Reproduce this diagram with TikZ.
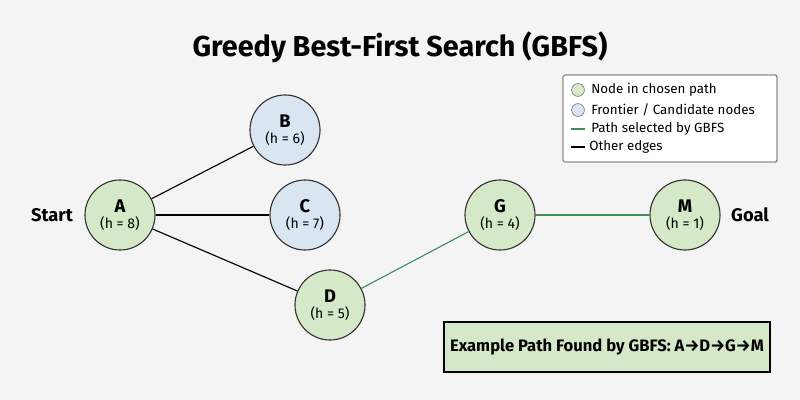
\documentclass[tikz,border=0pt]{standalone}
\usepackage{fontspec}
\setmainfont{Fira Sans}
\definecolor{pathfill}{HTML}{D5E8C8}
\definecolor{candfill}{HTML}{DAE5F2}
\definecolor{pathedge}{HTML}{3C8F5A}
\definecolor{bgcol}{HTML}{F4F4F4}
\tikzset{
    state/.style={circle, draw=black!80, thick, minimum size=1.75cm, align=center, inner sep=0pt, font=\fontsize{10}{11.5}\selectfont},
    chosen/.style={state, fill=pathfill},
    cand/.style={state, fill=candfill},
    other/.style={draw=black, thick},
    picked/.style={draw=pathedge, thick}
}
\newcommand{\hnode}[2]{{\fontsize{13}{15}\selectfont\bfseries #1}\\(h = #2)}
\begin{document}
\begin{tikzpicture}[x=0.025cm, y=-0.025cm]
            \fill[bgcol] (0,0) rectangle (800,400);
            \useasboundingbox (0,0) rectangle (800,400);
            \node[font=\fontsize{20.5}{23}\selectfont\bfseries] (title) at (400,47) {Greedy Best-First Search (GBFS)};

            \node[chosen] (A) at (120,215) {\hnode{A}{8}};
            \node[cand] (B) at (285,130) {\hnode{B}{6}};
            \node[cand] (C) at (305,215) {\hnode{C}{7}};
            \node[chosen] (D) at (330,305) {\hnode{D}{5}};
            \node[chosen] (G) at (500,215) {\hnode{G}{4}};
            \node[chosen] (M) at (685,215) {\hnode{M}{1}};
            \node[font=\fontsize{13}{15}\selectfont\bfseries] (start) at (52,215) {Start};
            \node[font=\fontsize{13}{15}\selectfont\bfseries] (goal) at (750,215) {Goal};

            \draw[other] (A) -- (B); \draw[other] (A) -- (C); \draw[other] (A) -- (D);
            \draw[picked] (D) -- (G); \draw[picked] (G) -- (M);

            % legend
            \draw[black!80, fill=white, rounded corners=1pt] (563,75) rectangle (777,162);
            \node[circle, draw=black!60, fill=pathfill, minimum size=0.32cm, inner sep=0pt] (l1) at (578,90) {};
            \node[circle, draw=black!60, fill=candfill, minimum size=0.32cm, inner sep=0pt] (l2) at (578,110) {};
            \coordinate (l3a) at (571,129); \coordinate (l3b) at (585,129);
            \coordinate (l4a) at (571,147); \coordinate (l4b) at (585,147);
            \draw[picked] (l3a) -- (l3b);
            \draw[other] (l4a) -- (l4b);
            \begin{scope}[every node/.style={anchor=west, inner sep=0pt, font=\fontsize{9.5}{11}\selectfont}]
                \node (t1) at (591,90) {Node in chosen path};
                \node (t2) at (591,110) {Frontier / Candidate nodes};
                \node (t3) at (591,129) {Path selected by GBFS};
                \node (t4) at (589,147) {Other edges};
            \end{scope}

            \node[draw=black, thick, fill=pathfill, minimum width=8.15cm, minimum height=1.25cm, font=\fontsize{11.8}{13}\selectfont\bfseries] (found) at (607,347) {Example Path Found by GBFS: A→D→G→M};
        \end{tikzpicture}
\end{document}
